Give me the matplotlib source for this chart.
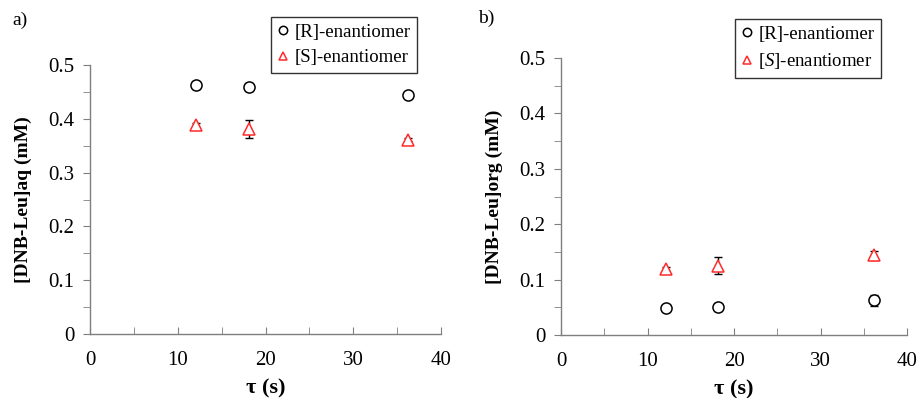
import matplotlib
matplotlib.use("Agg")
import matplotlib.pyplot as plt

# residence time (s)
tau = [12.1, 18.1, 36.2]

# panel a) aqueous phase
aq_R = [0.462, 0.459, 0.445]
aq_R_err = [0.006, 0.008, 0.004]
aq_S = [0.388, 0.381, 0.361]
aq_S_err = [0.004, 0.016, 0.003]

# panel b) organic phase
org_R = [0.048, 0.051, 0.063]
org_R_err = [0.005, 0.007, 0.010]
org_S = [0.119, 0.125, 0.144]
org_S_err = [0.004, 0.015, 0.008]

xticks = [0, 10, 20, 30, 40]
yticks = [0, 0.1, 0.2, 0.3, 0.4, 0.5]
ytick_labels = ["0", "0.1", "0.2", "0.3", "0.4", "0.5"]

plt.rcParams['font.family'] = ['Liberation Serif', 'DejaVu Serif']
plt.rcParams['mathtext.fontset'] = 'custom'
plt.rcParams['mathtext.it'] = 'Liberation Serif:italic'
plt.rcParams['mathtext.rm'] = 'Liberation Serif'

fig = plt.figure(figsize=(9.19, 3.98), dpi=100)
W, H = 919, 398


def make_axes(left, right, top, bottom):
    return fig.add_axes([left / W, 1 - bottom / H, (right - left) / W, (bottom - top) / H])


def draw_panel(ax, yR, eR, yS, eS, ylabel, s_label):
    ax.errorbar(tau, yR, yerr=eR, fmt='none', ecolor='black', elinewidth=1, capsize=3, zorder=2)
    ax.errorbar(tau, yS, yerr=eS, fmt='none', ecolor='black', elinewidth=1, capsize=3, zorder=2)
    ax.plot(tau, yR, linestyle='none', marker='o', markersize=8, markerfacecolor='white',
            markeredgecolor='black', markeredgewidth=1.1, label='[R]-enantiomer', zorder=3)
    ax.plot(tau, yS, linestyle='none', marker='^', markersize=8.5, markerfacecolor='white',
            markeredgecolor='#ff2a2a', markeredgewidth=1.1, label=s_label, zorder=3)
    ax.set_xlim(0, 40)
    ax.set_ylim(0, 0.5)
    ax.set_xticks(xticks)
    ax.set_xticks([5, 15, 25, 35], minor=True)
    ax.set_yticks(yticks)
    ax.set_yticklabels(ytick_labels)
    ax.set_yticks([0.05, 0.15, 0.25, 0.35, 0.45], minor=True)
    for sp in ['top', 'right']:
        ax.spines[sp].set_visible(False)
    for sp in ['left', 'bottom']:
        ax.spines[sp].set_color('#7f7f7f')
        ax.spines[sp].set_linewidth(1)
    ax.tick_params(which='both', direction='out', color='#7f7f7f', labelsize=15, pad=6)
    ax.tick_params(which='major', length=5)
    ax.tick_params(which='minor', length=5)
    ax.tick_params(axis='x', direction='in', which='both', length=5, pad=12)
    ax.set_xlabel('τ (s)', fontsize=16, fontweight='bold', labelpad=6)
    ax.set_ylabel(ylabel, fontsize=14, fontweight='bold', labelpad=12)


ax1 = make_axes(90, 441, 65, 334)
draw_panel(ax1, aq_R, aq_R_err, aq_S, aq_S_err, '[DNB-Leu]aq (mM)', '[S]-enantiomer')
leg1 = ax1.legend(loc='upper left', bbox_to_anchor=((271 - 90) / 351, (334 - 17) / 269),
                  frameon=True, fancybox=False, edgecolor='black', fontsize=13.5,
                  markerscale=0.75, handlelength=0.6, handletextpad=0.3, borderpad=0.35,
                  labelspacing=0.45, borderaxespad=0)
leg1.get_frame().set_linewidth(1)
fig.text(12 / W, 1 - 20 / H, 'a)', fontsize=14, va='center')

ax2 = make_axes(561, 907, 58, 335)
draw_panel(ax2, org_R, org_R_err, org_S, org_S_err, '[DNB-Leu]org (mM)', r'[$\mathit{S}$]-enantiomer')
leg2 = ax2.legend(loc='upper left', bbox_to_anchor=((735 - 561) / 346, (335 - 19) / 277),
                  frameon=True, fancybox=False, edgecolor='black', fontsize=13.5,
                  markerscale=0.75, handlelength=0.6, handletextpad=0.3, borderpad=0.35,
                  labelspacing=0.45, borderaxespad=0)
leg2.get_frame().set_linewidth(1)
fig.text(478 / W, 1 - 18 / H, 'b)', fontsize=14, va='center')

fig.savefig('out.png', dpi=100)
